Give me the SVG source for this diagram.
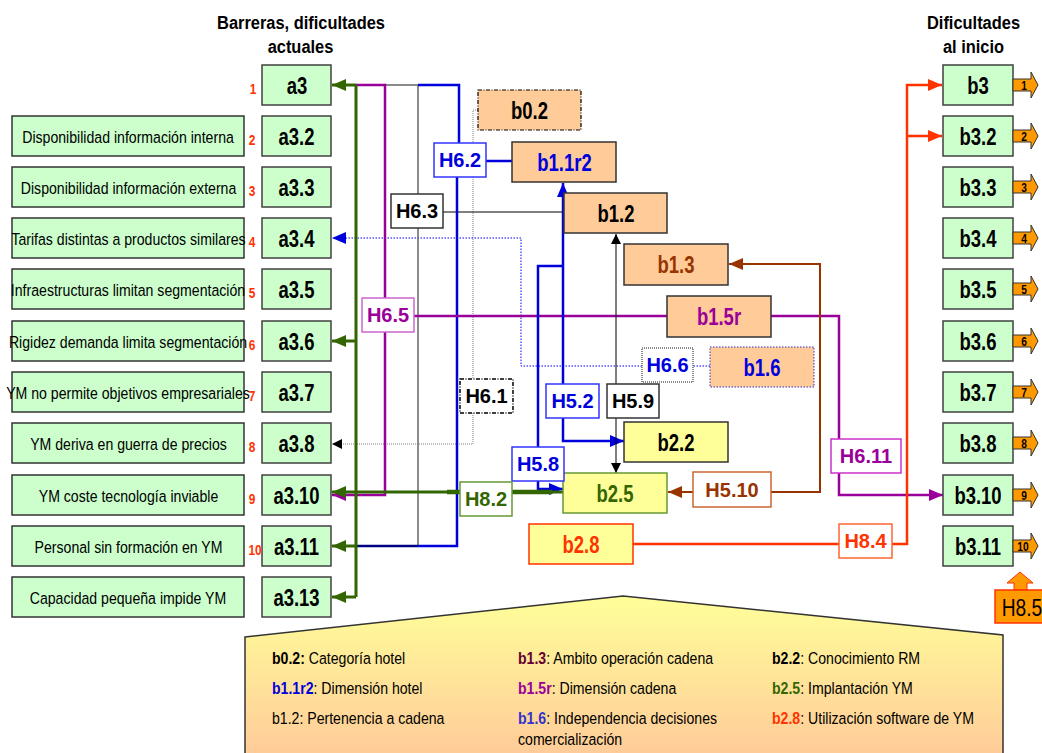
<svg xmlns="http://www.w3.org/2000/svg" width="1042" height="753" viewBox="0 0 1042 753">
  <defs>
    <style>
      text { font-family: "Liberation Sans", Arial, sans-serif; text-anchor: middle; }
      /* condensed lettering: squeeze glyphs horizontally about their own box */
      .hdr, .desc, .node, .num, .tagnum, .leg, .callout { transform-box: fill-box; transform-origin: center; }
      .hdr { font-size: 19px; font-weight: bold; fill: #000; transform: scaleX(0.865); }
      .desc-box { fill: #CCFFCC; stroke: #333; stroke-width: 1.5; }
      .desc { font-size: 17px; fill: #000; transform: scaleX(0.83); }
      .a-box { fill: #CCFFCC; stroke: #404040; stroke-width: 1.5; }
      .node { font-size: 24px; font-weight: bold; transform: scaleX(0.77); }
      .num { font-size: 14px; font-weight: bold; fill: #FF3300; transform: scaleX(0.85); }
      .peach { fill: #FFCC99; stroke: #333; stroke-width: 1.5; }
      .yellow { fill: #FFFF99; stroke: #333; stroke-width: 1.5; }
      .hbox { fill: #FFFFFF; stroke-width: 1.5; }
      .hl { font-size: 20px; font-weight: bold; }
      .tag { fill: #FF9900; stroke: #333; stroke-width: 1; }
      .tagnum { font-size: 12px; font-weight: bold; fill: #000; transform: scaleX(0.85); }
      .leg { font-size: 17px; text-anchor: start; fill: #000; transform-origin: left center; transform: scaleX(0.83); }
      .callout { font-size: 24px; fill: #000; transform: scaleX(0.8); }
      .c-green { fill: none; stroke: #336600; stroke-width: 3; }
      .c-purple { fill: none; stroke: #990099; stroke-width: 2.5; }
      .c-blue { fill: none; stroke: #0000DD; stroke-width: 2.5; }
      .c-gray { fill: none; stroke: #666666; stroke-width: 1.5; }
      .c-black { fill: none; stroke: #000; stroke-width: 1; }
      .c-brown { fill: none; stroke: #993300; stroke-width: 2; }
      .c-red { fill: none; stroke: #FF3300; stroke-width: 2.5; }
      .c-bdot { fill: none; stroke: #0000FF; stroke-width: 1; stroke-dasharray: 1.5 1.5; }
      .c-gdot { fill: none; stroke: #808080; stroke-width: 1; stroke-dasharray: 1 1; }
    </style>
    <marker id="ah-green" viewBox="0 0 14 12" refX="14" refY="6" markerWidth="14" markerHeight="12" markerUnits="userSpaceOnUse" orient="auto"><path d="M0,0 L14,6 L0,12 Z" fill="#336600"/></marker>
    <marker id="ah-purple" viewBox="0 0 14 12" refX="14" refY="6" markerWidth="14" markerHeight="12" markerUnits="userSpaceOnUse" orient="auto"><path d="M0,0 L14,6 L0,12 Z" fill="#990099"/></marker>
    <marker id="ah-blue" viewBox="0 0 14 12" refX="14" refY="6" markerWidth="14" markerHeight="12" markerUnits="userSpaceOnUse" orient="auto"><path d="M0,0 L14,6 L0,12 Z" fill="#0000DD"/></marker>
    <marker id="ah-brown" viewBox="0 0 14 12" refX="14" refY="6" markerWidth="14" markerHeight="12" markerUnits="userSpaceOnUse" orient="auto"><path d="M0,0 L14,6 L0,12 Z" fill="#993300"/></marker>
    <marker id="ah-red" viewBox="0 0 14 12" refX="14" refY="6" markerWidth="14" markerHeight="12" markerUnits="userSpaceOnUse" orient="auto"><path d="M0,0 L14,6 L0,12 Z" fill="#FF3300"/></marker>
    <marker id="ah-black" viewBox="0 0 10 10" refX="10" refY="5" markerWidth="10" markerHeight="10" markerUnits="userSpaceOnUse" orient="auto"><path d="M0,0 L10,5 L0,10 Z" fill="#000"/></marker>
    <linearGradient id="legend-fill" x1="0" y1="596" x2="0" y2="753" gradientUnits="userSpaceOnUse">
      <stop offset="0" stop-color="#FFFF99"/>
      <stop offset="1" stop-color="#FFCC99"/>
    </linearGradient>
  </defs>

  <rect width="1042" height="753" fill="#FFFFFF"/>

  <!-- column headings -->
  <g id="headings">
    <text class="hdr" x="301" y="29">Barreras, dificultades</text>
    <text class="hdr" x="300.5" y="53">actuales</text>
    <text class="hdr" x="973.5" y="29">Dificultades</text>
    <text class="hdr" x="973.5" y="53">al inicio</text>
  </g>

  <!-- legend panel -->
  <g id="legend">
    <polygon points="245,637 623,596 1003,635 1003,760 245,760" fill="url(#legend-fill)" stroke="#333" stroke-width="1.5"/>
    <text class="leg" x="272" y="664"><tspan font-weight="bold">b0.2:</tspan> Categoría hotel</text>
    <text class="leg" x="272" y="694"><tspan font-weight="bold" fill="#0000DD">b1.1r2</tspan>: Dimensión hotel</text>
    <text class="leg" x="272" y="724">b1.2: Pertenencia a cadena</text>
    <text class="leg" x="518" y="664"><tspan font-weight="bold" fill="#660033">b1.3</tspan>: Ambito operación cadena</text>
    <text class="leg" x="518" y="694"><tspan font-weight="bold" fill="#990099">b1.5r</tspan>: Dimensión cadena</text>
    <text class="leg" x="518" y="724"><tspan font-weight="bold" fill="#3333CC">b1.6</tspan>: Independencia decisiones</text>
    <text class="leg" x="518" y="745">comercialización</text>
    <text class="leg" x="772" y="664"><tspan font-weight="bold">b2.2</tspan>: Conocimiento RM</text>
    <text class="leg" x="772" y="694"><tspan font-weight="bold" fill="#336600">b2.5</tspan>: Implantación YM</text>
    <text class="leg" x="772" y="724"><tspan font-weight="bold" fill="#FF3300">b2.8</tspan>: Utilización software de YM</text>
  </g>

  <!-- connectors -->
  <g id="connectors">
    <!-- H6.1 (dotted) -->
    <path class="c-gdot" d="M478,110 H473 V379"/>
    <path class="c-gdot" d="M473,413 V444 H332" marker-end="url(#ah-black)"/>
    <!-- H6.6 (dotted) -->
    <path class="c-bdot" d="M710,366 H693"/>
    <path class="c-bdot" d="M642,366 H521 V238 H332" marker-end="url(#ah-blue)"/>
    <!-- H6.3 -->
    <path class="c-black" d="M564,212 H443"/>
    <path class="c-gray" d="M418,194 V85 H356"/>
    <path class="c-gray" d="M418,228 V546"/>
    <!-- H6.2 -->
    <path class="c-blue" d="M512,161 H486"/>
    <path class="c-blue" d="M459,143 V85 H418"/>
    <path class="c-blue" d="M457,177 V546 H418"/>
    <path fill="none" stroke="#000080" stroke-width="2.5" d="M418,546 H356"/>
    <!-- H6.5 -->
    <path class="c-purple" d="M667,316 H414"/>
    <path class="c-purple" d="M385,298 V85 H356"/>
    <path class="c-purple" d="M385,332 V495 H332" marker-end="url(#ah-purple)"/>
    <!-- H6.11 -->
    <path class="c-purple" d="M771,316 H839 V439"/>
    <path class="c-purple" d="M839,473 V495 H943" marker-end="url(#ah-purple)"/>
    <!-- H5.2 / H5.8 -->
    <path class="c-blue" d="M563,384 V183" marker-end="url(#ah-blue)"/>
    <path class="c-blue" d="M563,418 V441 H624" marker-end="url(#ah-blue)"/>
    <path class="c-blue" d="M563,266 H538 V447"/>
    <path class="c-blue" d="M538,481 V489 H563" marker-end="url(#ah-blue)"/>
    <!-- H5.9 -->
    <path class="c-black" d="M616,384 V234" marker-end="url(#ah-black)"/>
    <path class="c-black" d="M616,418 V473" marker-end="url(#ah-black)"/>
    <!-- H5.10 -->
    <path class="c-brown" d="M771,492 H820 V264 H729" marker-end="url(#ah-brown)"/>
    <path class="c-brown" d="M693,492 H668" marker-end="url(#ah-brown)"/>
    <!-- H8.2 and the green fan-out to the a3 barriers -->
    <path class="c-green" d="M563,492 H332" marker-end="url(#ah-green)"/>
    <path fill="none" stroke="#336600" stroke-width="4.5" d="M447,492 H552"/>
    <path class="c-green" d="M356,85 V597"/>
    <path class="c-green" d="M356,85 H332" marker-end="url(#ah-green)"/>
    <path class="c-green" d="M356,341 H332" marker-end="url(#ah-green)"/>
    <path class="c-green" d="M356,546 H332" marker-end="url(#ah-green)"/>
    <path class="c-green" d="M356,597 H332" marker-end="url(#ah-green)"/>
    <!-- H8.4 -->
    <path class="c-red" d="M633,544 H839"/>
    <path class="c-red" d="M892,544 H907 V85 H942" marker-end="url(#ah-red)"/>
    <path class="c-red" d="M907,136 H942" marker-end="url(#ah-red)"/>
  </g>

  <!-- barriers: description, number and code -->
  <g id="a3"><rect class="a-box" x="262" y="65" width="69" height="40"/><text class="node" x="297" y="94">a3</text><text class="num" x="253" y="94">1</text></g>
  <g id="a3-2"><rect class="desc-box" x="12" y="116" width="232" height="40"/><text class="desc" x="128" y="143">Disponibilidad información interna</text><rect class="a-box" x="262" y="116" width="69" height="40"/><text class="node" x="296.5" y="145">a3.2</text><text class="num" x="252" y="145">2</text></g>
  <g id="a3-3"><rect class="desc-box" x="12" y="167" width="232" height="40"/><text class="desc" x="128.5" y="194">Disponibilidad información externa</text><rect class="a-box" x="262" y="167" width="69" height="40"/><text class="node" x="296.5" y="196">a3.3</text><text class="num" x="252" y="196">3</text></g>
  <g id="a3-4"><rect class="desc-box" x="12" y="218" width="232" height="40"/><text class="desc" x="128.5" y="245">Tarifas distintas a productos similares</text><rect class="a-box" x="262" y="218" width="69" height="40"/><text class="node" x="296.5" y="247">a3.4</text><text class="num" x="252" y="247">4</text></g>
  <g id="a3-5"><rect class="desc-box" x="12" y="269" width="232" height="40"/><text class="desc" x="128" y="296">Infraestructuras limitan segmentación</text><rect class="a-box" x="262" y="269" width="69" height="40"/><text class="node" x="296.5" y="298">a3.5</text><text class="num" x="252" y="298">5</text></g>
  <g id="a3-6"><rect class="desc-box" x="12" y="321" width="232" height="40"/><text class="desc" x="128" y="348">Rigidez demanda limita segmentación</text><rect class="a-box" x="262" y="321" width="69" height="40"/><text class="node" x="296.5" y="350">a3.6</text><text class="num" x="252" y="350">6</text></g>
  <g id="a3-7"><rect class="desc-box" x="12" y="372" width="232" height="40"/><text class="desc" x="128" y="399">YM no permite objetivos empresariales</text><rect class="a-box" x="262" y="372" width="69" height="40"/><text class="node" x="296.5" y="401">a3.7</text><text class="num" x="252" y="401">7</text></g>
  <g id="a3-8"><rect class="desc-box" x="12" y="423" width="232" height="40"/><text class="desc" x="128.5" y="450">YM deriva en guerra de precios</text><rect class="a-box" x="262" y="423" width="69" height="40"/><text class="node" x="296.5" y="452">a3.8</text><text class="num" x="252" y="452">8</text></g>
  <g id="a3-10"><rect class="desc-box" x="12" y="475" width="232" height="40"/><text class="desc" x="128.5" y="502">YM coste tecnología inviable</text><rect class="a-box" x="262" y="475" width="69" height="40"/><text class="node" x="296.5" y="504">a3.10</text><text class="num" x="252" y="504">9</text></g>
  <g id="a3-11"><rect class="desc-box" x="12" y="526" width="232" height="40"/><text class="desc" x="128.5" y="553">Personal sin formación en YM</text><rect class="a-box" x="262" y="526" width="69" height="40"/><text class="node" x="296.5" y="555">a3.11</text><text class="num" x="255" y="555">10</text></g>
  <g id="a3-13"><rect class="desc-box" x="12" y="577" width="232" height="40"/><text class="desc" x="128" y="604">Capacidad pequeña impide YM</text><rect class="a-box" x="262" y="577" width="69" height="40"/><text class="node" x="296.5" y="606">a3.13</text></g>

  <!-- factor nodes -->
  <g id="b0-2"><rect x="478" y="90" width="103" height="40" fill="#FFCC99" stroke="#000" stroke-width="1.2" stroke-dasharray="4 1.5 1 1.5"/><text class="node" x="529.5" y="119" fill="#000">b0.2</text></g>
  <g id="b1-1r2"><rect class="peach" x="512" y="142" width="104" height="40"/><text class="node" x="564.5" y="171" fill="#0000DD">b1.1r2</text></g>
  <g id="b1-2"><rect class="peach" x="564" y="193" width="103" height="40"/><text class="node" x="616" y="222" fill="#000">b1.2</text></g>
  <g id="b1-3"><rect class="peach" x="624" y="244" width="104" height="41"/><text class="node" x="676" y="273" fill="#993300">b1.3</text></g>
  <g id="b1-5r"><rect class="peach" x="667" y="296" width="104" height="41"/><text class="node" x="719" y="325" fill="#990099">b1.5r</text></g>
  <g id="b1-6"><rect x="710" y="347" width="104" height="40" fill="#FFCC99" stroke="#3333CC" stroke-width="1" stroke-dasharray="1.5 1.5"/><text class="node" x="762" y="376" fill="#0000DD">b1.6</text></g>
  <g id="b2-2"><rect class="yellow" x="624" y="422" width="104" height="40"/><text class="node" x="676" y="451" fill="#000">b2.2</text></g>
  <g id="b2-5"><rect x="563" y="473" width="104" height="40" fill="#FFFF99" stroke="#669933" stroke-width="1.5"/><text class="node" x="615" y="502" fill="#336600">b2.5</text></g>
  <g id="b2-8"><rect x="529" y="524" width="104" height="40" fill="#FFFF99" stroke="#FF3300" stroke-width="1.5"/><text class="node" x="581" y="553" fill="#FF3300">b2.8</text></g>

  <!-- hypothesis labels -->
  <g id="H6-2"><rect class="hbox" x="434" y="143" width="52" height="34" stroke="#3333FF"/><text class="hl" x="460" y="167" fill="#0000DD">H6.2</text></g>
  <g id="H6-3"><rect class="hbox" x="391" y="194" width="52" height="34" stroke="#333"/><text class="hl" x="417" y="218" fill="#000">H6.3</text></g>
  <g id="H6-5"><rect class="hbox" x="362" y="298" width="52" height="34" stroke="#CC66CC"/><text class="hl" x="388" y="322" fill="#990099">H6.5</text></g>
  <g id="H6-1"><rect class="hbox" x="460" y="379" width="53" height="34" stroke="#000" stroke-width="1.2" stroke-dasharray="4 1.5 1 1.5"/><text class="hl" x="486.5" y="403" fill="#000">H6.1</text></g>
  <g id="H6-6"><rect class="hbox" x="642" y="348" width="51" height="34" stroke="#666" stroke-width="1" stroke-dasharray="1 1"/><text class="hl" x="667.5" y="372" fill="#0000DD">H6.6</text></g>
  <g id="H5-2"><rect class="hbox" x="546" y="384" width="53" height="34" stroke="#3333FF"/><text class="hl" x="572.5" y="408" fill="#0000DD">H5.2</text></g>
  <g id="H5-9"><rect class="hbox" x="607" y="384" width="52" height="34" stroke="#333"/><text class="hl" x="633" y="408" fill="#000">H5.9</text></g>
  <g id="H5-8"><rect class="hbox" x="512" y="447" width="52" height="34" stroke="#3333FF"/><text class="hl" x="538" y="471" fill="#0000DD">H5.8</text></g>
  <g id="H8-2"><rect class="hbox" x="460" y="482" width="52" height="34" stroke="#669933"/><text class="hl" x="486" y="506" fill="#336600">H8.2</text></g>
  <g id="H5-10"><rect class="hbox" x="693" y="472" width="78" height="35" stroke="#CC6633"/><text class="hl" x="732" y="497" fill="#993300">H5.10</text></g>
  <g id="H6-11"><rect class="hbox" x="831" y="439" width="70" height="34" stroke="#CC33CC"/><text class="hl" x="866" y="463" fill="#990099">H6.11</text></g>
  <g id="H8-4"><rect class="hbox" x="839" y="524" width="53" height="34" stroke="#FF6633"/><text class="hl" x="865.5" y="548" fill="#FF3300">H8.4</text></g>

  <!-- initial difficulties with numbered tags -->
  <g id="b3"><rect class="a-box" x="943" y="65" width="70" height="40"/><text class="node" x="978" y="94">b3</text><path class="tag" d="M1013,79 H1031 V72 L1038,85 L1031,98 V91 H1013 Z"/><text class="tagnum" x="1024" y="90">1</text></g>
  <g id="b3-2"><rect class="a-box" x="943" y="116" width="70" height="40"/><text class="node" x="978" y="145">b3.2</text><path class="tag" d="M1013,130 H1031 V123 L1038,136 L1031,149 V142 H1013 Z"/><text class="tagnum" x="1024" y="141">2</text></g>
  <g id="b3-3"><rect class="a-box" x="943" y="167" width="70" height="40"/><text class="node" x="978" y="196">b3.3</text><path class="tag" d="M1013,181 H1031 V174 L1038,187 L1031,200 V193 H1013 Z"/><text class="tagnum" x="1024" y="192">3</text></g>
  <g id="b3-4"><rect class="a-box" x="943" y="218" width="70" height="40"/><text class="node" x="978" y="247">b3.4</text><path class="tag" d="M1013,232 H1031 V225 L1038,238 L1031,251 V244 H1013 Z"/><text class="tagnum" x="1024" y="243">4</text></g>
  <g id="b3-5"><rect class="a-box" x="943" y="269" width="70" height="40"/><text class="node" x="978" y="298">b3.5</text><path class="tag" d="M1013,283 H1031 V276 L1038,289 L1031,302 V295 H1013 Z"/><text class="tagnum" x="1024" y="294">5</text></g>
  <g id="b3-6"><rect class="a-box" x="943" y="321" width="70" height="40"/><text class="node" x="978" y="350">b3.6</text><path class="tag" d="M1013,335 H1031 V328 L1038,341 L1031,354 V347 H1013 Z"/><text class="tagnum" x="1024" y="346">6</text></g>
  <g id="b3-7"><rect class="a-box" x="943" y="372" width="70" height="40"/><text class="node" x="978" y="401">b3.7</text><path class="tag" d="M1013,386 H1031 V379 L1038,392 L1031,405 V398 H1013 Z"/><text class="tagnum" x="1024" y="397">7</text></g>
  <g id="b3-8"><rect class="a-box" x="943" y="423" width="70" height="40"/><text class="node" x="978" y="452">b3.8</text><path class="tag" d="M1013,437 H1031 V430 L1038,443 L1031,456 V449 H1013 Z"/><text class="tagnum" x="1024" y="448">8</text></g>
  <g id="b3-10"><rect class="a-box" x="943" y="475" width="70" height="40"/><text class="node" x="978" y="504">b3.10</text><path class="tag" d="M1013,489 H1031 V482 L1038,495 L1031,508 V501 H1013 Z"/><text class="tagnum" x="1024" y="500">9</text></g>
  <g id="b3-11"><rect class="a-box" x="943" y="526" width="70" height="40"/><text class="node" x="978" y="555">b3.11</text><path class="tag" d="M1013,540 H1031 V533 L1038,546 L1031,559 V552 H1013 Z"/><text class="tagnum" x="1023" y="551">10</text></g>

  <!-- H8.5 callout -->
  <g id="H8-5">
    <polygon points="1020,572 1033,583 1027,583 1027,590 1014,590 1014,583 1007,583" fill="#FF9900" stroke="#FF3300" stroke-width="1"/>
    <rect x="995" y="590" width="52" height="33" fill="#FF9900" stroke="#FF3300" stroke-width="1.5"/>
    <text class="callout" x="1022" y="616">H8.5</text>
  </g>
</svg>
